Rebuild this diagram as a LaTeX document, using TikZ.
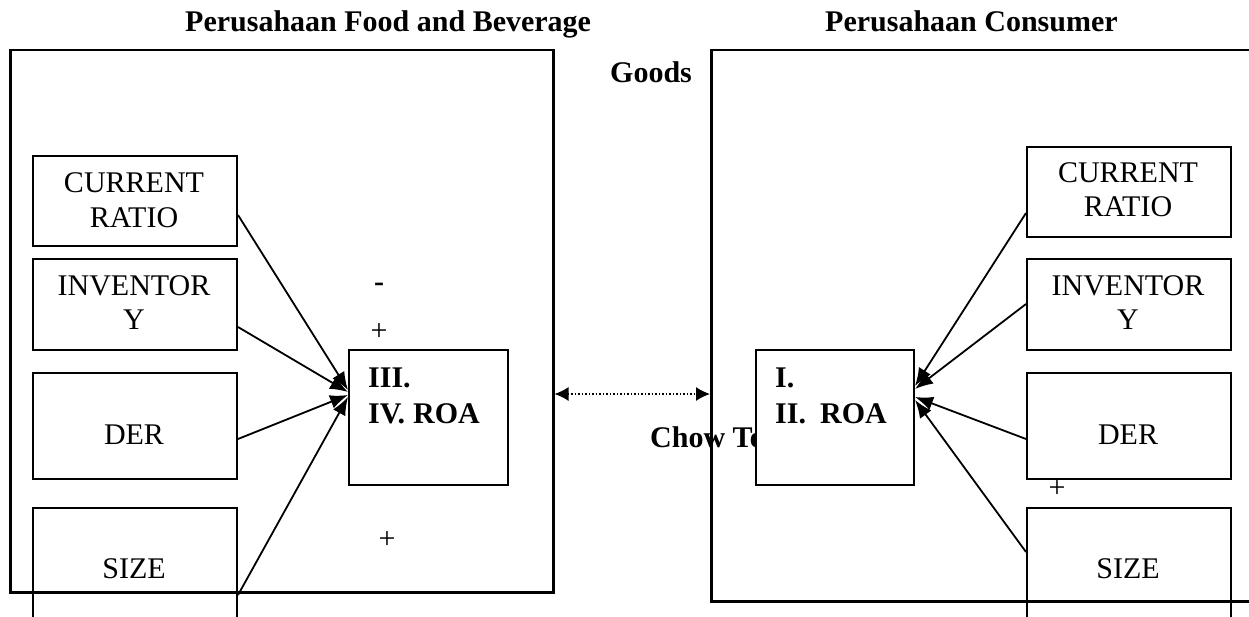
\documentclass[tikz,border=0pt]{standalone}
\usepackage{fontspec}
\setmainfont{Liberation Serif}
\usetikzlibrary{arrows.meta,calc}
\begin{document}
\begin{tikzpicture}[x=1pt,y=-1pt,
  outerbox/.style={draw, line width=2.5pt, anchor=north west, inner sep=0pt},
  varbox/.style={draw, line width=2pt, anchor=north west, inner sep=0pt, minimum width=204pt},
  roabox/.style={draw, fill=white, line width=2pt, anchor=north west, inner sep=0pt, minimum width=159pt, minimum height=135pt},
  txt/.style={inner sep=0pt, anchor=base, font=\fontsize{30}{35}\selectfont},
  btxt/.style={inner sep=0pt, anchor=base west, font=\fontsize{30}{35}\selectfont\bfseries},
  sign/.style={inner sep=0pt, anchor=base, font=\fontsize{30}{35}\selectfont},
  infl/.style={line width=1.8pt, -{Latex[length=18pt,width=14pt]}},
  link/.style={line width=1.5pt, dotted, {Latex[length=14pt,width=14pt]}-{Latex[length=14pt,width=14pt]}}
]
\useasboundingbox (0,0) rectangle (1249,617);

% titles
\node[btxt] (t1) at (185,32) {Perusahaan Food and Beverage};
\node[btxt] (t2) at (825,32) {Perusahaan Consumer};
\node[btxt] (t3) at (610,83) {Goods};

% outer panels
\node[outerbox, minimum width=543pt, minimum height=542pt] (lbig) at (9,49) {};
\node[outerbox, minimum width=560pt, minimum height=551pt] (rbig) at (710,49) {};

\node[btxt] (chow) at (650,447) {Chow Test};

% ROA boxes
\node[roabox] (lroa) at (348,349) {};
\node[roabox, minimum width=158pt] (rroa) at (755,349) {};
\node[btxt] (l1) at (368,387) {III.};
\node[btxt] (l2) at (368,423) {IV.};
\node[btxt] (l3) at (413,423) {ROA};
\node[btxt] (r1) at (775,387) {I.};
\node[btxt] (r2) at (775,423) {II.};
\node[btxt] (r3) at (820,423) {ROA};

% left variable boxes
\node[varbox, minimum height=90pt] (lcr) at (32,155) {};
\node[varbox, minimum height=91pt] (linv) at (32,258) {};
\node[varbox, minimum height=106pt] (lder) at (32,372) {};
\node[varbox, minimum height=140pt] (lsize) at (32,507) {};
\node[txt] (lcr1) at (134,193) {CURRENT};
\node[txt] (lcr2) at (134,228) {RATIO};
\node[txt] (linv1) at (134,296) {INVENTOR};
\node[txt] (linv2) at (134,330) {Y};
\node[txt] (lder1) at (134,444) {DER};
\node[txt] (lsize1) at (134,578) {SIZE};

% right variable boxes
\node[varbox, minimum height=90pt] (rcr) at (1026,146) {};
\node[varbox, minimum height=91pt] (rinv) at (1026,258) {};
\node[varbox, minimum height=106pt] (rder) at (1026,372) {};
\node[varbox, minimum height=140pt] (rsize) at (1026,507) {};
\node[txt] (rcr1) at (1128,183) {CURRENT};
\node[txt] (rcr2) at (1128,217) {RATIO};
\node[txt] (rinv1) at (1128,296) {INVENTOR};
\node[txt] (rinv2) at (1128,330) {Y};
\node[txt] (rder1) at (1128,444) {DER};
\node[txt] (rsize1) at (1128,578) {SIZE};

% signs
\node[sign, font=\fontsize{30}{35}\selectfont\bfseries] (m1) at (379,292) {-};
\node[sign] (p1) at (379,341) {+};
\node[sign] (p2) at (387,548) {+};
\node[sign] (p3) at (1057,497) {+};

% left arrows
\draw[infl] ($(lcr.north east)+(0,60)$) -- ($(lroa.north west)+(0,41)$);
\draw[infl] ($(linv.north east)+(0,69)$) -- ($(lroa.north west)+(0,43)$);
\draw[infl] ($(lder.north east)+(0,67)$) -- ($(lroa.north west)+(0,46)$);
\draw[infl] ($(lsize.north east)+(0,88)$) -- ($(lroa.north west)+(0,48)$);

% right arrows
\draw[infl] ($(rcr.north west)+(0,67)$) -- ($(rroa.north east)+(0,37)$);
\draw[infl] ($(rinv.north west)+(0,46)$) -- ($(rroa.north east)+(0,40)$);
\draw[infl] ($(rder.north west)+(0,67)$) -- ($(rroa.north east)+(0,48)$);
\draw[infl] ($(rsize.north west)+(0,45)$) -- ($(rroa.north east)+(0,51)$);

% link between panels
\draw[link] ($(lbig.north east)+(0,345)$) -- ($(rbig.north west)+(0,345)$);
\end{tikzpicture}
\end{document}
